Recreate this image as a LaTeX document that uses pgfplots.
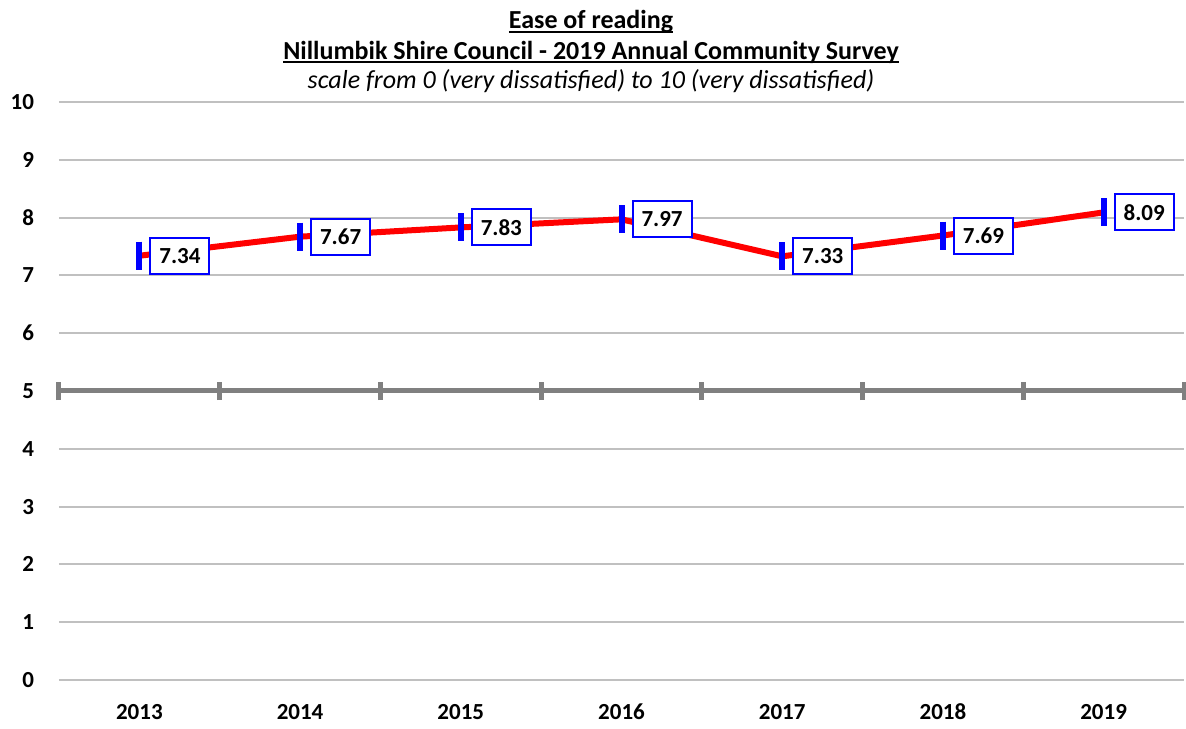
\documentclass[border=0pt]{standalone}
\usepackage{pgfplots}
\pgfplotsset{compat=1.18}
\usepackage{fontspec}
\setmainfont{Carlito}
\definecolor{gridgray}{HTML}{C0C0C0}
\definecolor{axisgray}{HTML}{808080}
% underline close to the baseline, as in the original
\newcommand\ul[1]{\setbox0\hbox{#1}\rlap{\rule[-1.8pt]{\wd0}{0.8pt}}\box0}
\begin{document}
\begin{tikzpicture}
\useasboundingbox (-29.5pt,-24pt) rectangle (563.5pt,340pt);
\begin{axis}[
  at={(0pt,0pt)}, anchor=south west,
  scale only axis, width=562.5pt, height=289pt,
  xmin=-0.5, xmax=6.5, ymin=0, ymax=10,
  xtick={0,...,6},
  xticklabels={2013,2014,2015,2016,2017,2018,2019},
  ytick={0,...,10},
  ymajorgrids,
  grid style={gridgray, line width=1pt},
  axis line style={draw=none},
  tick style={draw=none},
  ticklabel style={font=\bfseries\fontsize{11.5}{13}\selectfont},
  xticklabel style={yshift=-8.5pt},
  yticklabel style={xshift=-9pt},
  /pgf/number format/assume math mode=true,
  clip=false,
]
\addplot[red, line width=3pt, mark=|,
  mark options={blue, line width=3pt, mark size=7pt},
  point meta=y,
  nodes near coords={\pgfmathprintnumber[fixed,precision=2,fixed zerofill]{\pgfplotspointmeta}},
  every node near coord/.style={anchor=west, xshift=5pt, draw=blue, fill=white,
    line width=1pt, text=black, font=\bfseries\fontsize{11.5}{13}\selectfont,
    inner xsep=4.5pt, minimum height=18pt},
] coordinates {
  (0,7.34) (1,7.67) (2,7.83) (3,7.97) (4,7.33) (5,7.69) (6,8.09)
};
\draw[axisgray, line width=2.5pt] (axis cs:-0.5,5) -- (axis cs:6.5,5);
\pgfplotsinvokeforeach{-0.5,0.5,1.5,2.5,3.5,4.5,5.5,6.5}{
  \draw[axisgray, line width=2.5pt] ([yshift=-4.5pt]axis cs:#1,5) -- ([yshift=4.5pt]axis cs:#1,5);
}
\end{axis}
\node[font=\bfseries\fontsize{13}{15}\selectfont] at (266pt,329pt) {\ul{Ease of reading}};
\node[font=\bfseries\fontsize{13}{15}\selectfont] at (266pt,314pt) {\ul{Nillumbik Shire Council - 2019 Annual Community Survey}};
\node[font=\itshape\fontsize{13}{15}\selectfont] at (266pt,299.5pt) {scale from 0 (very dissatisfied) to 10 (very dissatisfied)};
\end{tikzpicture}
\end{document}
